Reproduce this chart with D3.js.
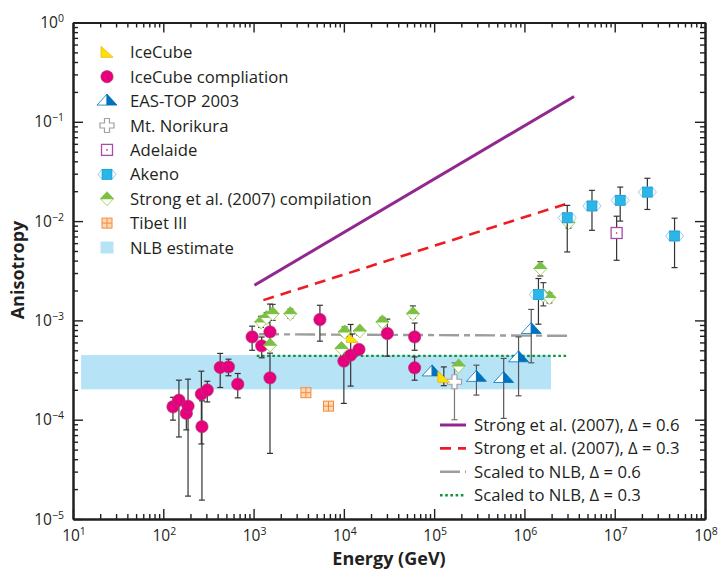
<!DOCTYPE html>
<html>
<head>
<meta charset="utf-8">
<script src="https://cdn.jsdelivr.net/npm/d3@7"></script>
<style>
body{margin:0;background:#fff;}
text{font-family:"Open Sans",sans-serif;fill:#231f20;}
</style>
</head>
<body>
<div id="chart"></div>
<script>
// [energy (GeV), anisotropy, err low, err high]
var iceCubeComp = [
	[128,1.35e-4,9.9e-5,1.68e-4],[149,1.57e-4,6.7e-5,2.5e-4],[180,1.16e-4,7.9e-5,1.40e-4],
	[188,1.37e-4,1.7e-5,2.56e-4],[264,1.81e-4,5.7e-5,3.08e-4],[268,8.5e-5,1.55e-5,1.55e-4],
	[307,1.99e-4,1.51e-4,2.44e-4],[427,3.36e-4,2.11e-4,4.65e-4],[527,3.4e-4,2.77e-4,4.07e-4],
	[668,2.28e-4,1.66e-4,2.92e-4],[964,6.82e-4,5.0e-4,8.75e-4],[1230,5.54e-4,4.2e-4,6.8e-4],
	[1520,7.66e-4,6.08e-4,1.46e-3],[1520,2.64e-4,4.58e-5,4.68e-4],[5430,1.02e-3,6.18e-4,1.42e-3],
	[1.0e4,3.89e-4,1.46e-4,4.8e-4],[1.19e4,4.47e-4,2.18e-4,9.1e-4],[1.47e4,5.1e-4,4.6e-4,5.6e-4],
	[3.03e4,7.38e-4,4.36e-4,1.03e-3],[6.08e4,6.82e-4,5.0e-4,9.4e-4],[6.08e4,3.33e-4,2.5e-4,4.29e-4]
];
var iceCube = [[1.24e4,6.73e-4,6.2e-4,7.3e-4],[1.28e5,2.67e-4,2.2e-4,3.4e-4]];
var easTop = [
	[9.5e4,3.03e-4,3.03e-4,3.03e-4],[2.94e5,2.67e-4,1.77e-4,3.54e-4],[5.89e5,2.6e-4,1.03e-4,4.14e-4],
	[8.61e5,4.2e-4,1.74e-4,6.82e-4],[1.19e6,8.1e-4,3.74e-4,1.29e-3]
];
var norikura = [[1.68e5,2.41e-4,1.0e-4,3.74e-4]];
var adelaide = [[1.05e7,7.59e-3,4.03e-3,1.12e-2]];
var akeno = [
	[1.43e6,1.82e-3,9.16e-4,2.64e-3],[2.98e6,1.08e-2,4.89e-3,1.44e-2],[5.6e6,1.42e-2,8.08e-3,2.04e-2],
	[1.15e7,1.62e-2,1.0e-2,2.20e-2],[2.3e7,1.96e-2,1.31e-2,2.70e-2],[4.6e7,7.08e-3,3.40e-3,1.07e-2]
];
var strong = [
	[1211,9.66e-4,8.5e-4,1.1e-3],[1397,1.07e-3,9.5e-4,1.2e-3],[1628,1.17e-3,1.0e-3,1.45e-3],
	[2553,1.17e-3,1.05e-3,1.3e-3],[1523,5.63e-4,5.63e-4,5.63e-4],[1.02e4,7.66e-4,6.9e-4,8.6e-4],
	[9.4e3,5.22e-4,5.22e-4,5.22e-4],[1.50e4,7.84e-4,7.84e-4,7.84e-4],[2.67e4,9.66e-4,8.8e-4,1.07e-3],
	[5.82e4,1.17e-3,1.05e-3,1.4e-3],[1.87e5,3.48e-4,3.48e-4,3.48e-4],[3.08e6,9.66e-3,8.5e-3,1.1e-2],
	[1.50e6,3.33e-3,2.8e-3,3.9e-3],[1.62e6,1.79e-3,1.4e-3,2.4e-3],[1.89e6,1.70e-3,1.5e-3,1.9e-3]
];
var tibet = [[3.8e3,1.87e-4],[6.76e3,1.37e-4]];

var strong06 = [[1023,2.26e-3],[3.55e6,0.18]];
var strong03 = [[1285,1.6e-3],[2.83e6,1.48e-2]];
var nlb06 = [[1150,7.26e-4],[2.98e6,7.0e-4]];
var nlb03 = [[1084,4.39e-4],[2.98e6,4.39e-4]];
var nlbBand = {e:[12.3,1.97e6], a:[2.02e-4,4.47e-4]};

var xMajors = [1,2,3,4,5,6,7,8];
var yMajors = [-5,-4,-3,-2,-1,0];

var legendTop = [
	["icecube","IceCube"],["icecomp","IceCube compliation"],["eastop","EAS-TOP 2003"],
	["norikura","Mt. Norikura"],["adelaide","Adelaide"],["akeno","Akeno"],
	["strong","Strong et al. (2007) compilation"],["tibet","Tibet III"],["nlb","NLB estimate"]
];
var legendLines = [
	["s06","Strong et al. (2007), \u0394 = 0.6"],["s03","Strong et al. (2007), \u0394 = 0.3"],
	["n06","Scaled to NLB, \u0394 = 0.6"],["n03","Scaled to NLB, \u0394 = 0.3"]
];

(function(){
	var width = 719, height = 570;
	var svg = d3.select("div#chart").append("svg")
		.attr("width",width).attr("height",height);

	var x = d3.scaleLog().domain([10,1e8]).range([73,705]);
	var y = d3.scaleLog().domain([1e-5,1]).range([519,22.5]);

	var lineStyles = {
		s06:{stroke:"#92278f",w:3,dash:null},
		s03:{stroke:"#ed1c24",w:2.6,dash:"11,7"},
		n06:{stroke:"#9d9d9d",w:2.4,dash:"20,5,6,5"},
		n03:{stroke:"#10923f",w:2.4,dash:"2.6,2.6"}
	};

	// NLB band
	svg.append("rect")
		.attr("x",x(nlbBand.e[0])).attr("width",x(nlbBand.e[1])-x(nlbBand.e[0]))
		.attr("y",y(nlbBand.a[1])).attr("height",y(nlbBand.a[0])-y(nlbBand.a[1]))
		.attr("fill","#b7e3f7");

	var line = d3.line().x(function(d){return x(d[0]);}).y(function(d){return y(d[1]);});
	[[strong06,"s06"],[strong03,"s03"],[nlb06,"n06"],[nlb03,"n03"]].forEach(function(l){
		var s = lineStyles[l[1]];
		svg.append("path").attr("d",line(l[0])).attr("fill","none")
			.attr("stroke",s.stroke).attr("stroke-width",s.w)
			.attr("stroke-dasharray",s.dash);
	});

	function marker(g,type){
		if(type=="icecube"){
			g.append("path").attr("d","M-6,-6L-6,5L6,5Z").attr("fill","#ffe100").attr("stroke","#f2b01e").attr("stroke-width",0.8);
		}else if(type=="icecomp"){
			g.append("circle").attr("r",6.2).attr("fill","#e6007e").attr("stroke","#a0466f").attr("stroke-width",0.6);
		}else if(type=="eastop"){
			g.append("path").attr("d","M-10,4L0,-7L0,4Z").attr("fill","#fff").attr("stroke","#0072bc").attr("stroke-width",0.8);
			g.append("path").attr("d","M0,-7L10,4L0,4Z").attr("fill","#0072bc").attr("stroke","#0072bc").attr("stroke-width",0.8);
		}else if(type=="norikura"){
			g.append("path").attr("d","M-2.5,-7h5v4.5h4.5v5h-4.5v4.5h-5v-4.5h-4.5v-5h4.5Z")
				.attr("fill","#fff").attr("stroke","#a0a0a0").attr("stroke-width",1.2);
		}else if(type=="adelaide"){
			g.append("rect").attr("x",-5.5).attr("y",-5.5).attr("width",11).attr("height",11)
				.attr("fill","#fff").attr("stroke","#a54ea5").attr("stroke-width",1.3);
			g.append("circle").attr("r",0.8).attr("fill","#e6007e");
		}else if(type=="akeno"){
			g.append("path").attr("d","M-9,0L-5,-5L5,-5L9,0L5,5L-5,5Z").attr("fill","#fff").attr("stroke","#8fd1f2").attr("stroke-width",1);
			g.append("rect").attr("x",-5).attr("y",-5).attr("width",10).attr("height",10)
				.attr("fill","#29b6e8").attr("stroke","#1a8fc4").attr("stroke-width",0.6);
		}else if(type=="strong"){
			g.append("path").attr("d","M-6.5,0L0,7L6.5,0Z").attr("fill","#fff").attr("stroke","#8dc63f").attr("stroke-width",0.8);
			g.append("path").attr("d","M-6.5,0L0,-7L6.5,0Z").attr("fill","#7ac143").attr("stroke","#7ac143").attr("stroke-width",0.8);
		}else if(type=="tibet"){
			g.append("rect").attr("x",-5).attr("y",-5).attr("width",10).attr("height",10)
				.attr("fill","#fdd9b5").attr("stroke","#f58a3c").attr("stroke-width",1);
			g.append("path").attr("d","M0,-5V5M-5,0H5").attr("stroke","#f58a3c").attr("stroke-width",1);
		}else if(type=="nlb"){
			g.append("rect").attr("x",-6.5).attr("y",-6).attr("width",13).attr("height",12).attr("fill","#b7e3f7");
		}
	}

	function series(data,type,barColor){
		var g = svg.append("g");
		var bars = g.selectAll(".eb").data(data.filter(function(d){return d.length>2 && d[2]!=d[3];}))
			.enter().append("g").attr("stroke",barColor||"#333").attr("stroke-width",1.2);
		bars.append("line")
			.attr("x1",function(d){return x(d[0]);}).attr("x2",function(d){return x(d[0]);})
			.attr("y1",function(d){return y(d[2]);}).attr("y2",function(d){return y(d[3]);});
		[2,3].forEach(function(i){
			bars.append("line")
				.attr("x1",function(d){return x(d[0])-3;}).attr("x2",function(d){return x(d[0])+3;})
				.attr("y1",function(d){return y(d[i]);}).attr("y2",function(d){return y(d[i]);});
		});
		g.selectAll(".pt").data(data).enter().append("g")
			.attr("transform",function(d){return "translate("+x(d[0])+","+y(d[1])+")";})
			.each(function(){ marker(d3.select(this),type); });
	}

	series(iceCubeComp,"icecomp","#333");
	series(easTop,"eastop","#555");
	series(norikura,"norikura","#777");
	series(iceCube,"icecube","#333");
	series(tibet,"tibet");
	series(adelaide,"adelaide","#333");
	series(strong,"strong","#444");
	series(akeno,"akeno","#333");

	// axes
	function minors(lo,hi){
		var out = [];
		for(var e=lo;e<hi;e++){ for(var k=2;k<10;k++){ out.push(k*Math.pow(10,e)); } }
		return out;
	}
	var xMaj = xMajors.map(function(p){return Math.pow(10,p);});
	var yMaj = yMajors.map(function(p){return Math.pow(10,p);});
	var xMin = minors(1,8), yMin = minors(-5,0);

	function addAxis(axis,tr){
		var g = svg.append("g").attr("transform",tr).call(axis);
		g.selectAll("text").remove();
		g.select(".domain").attr("stroke","#231f20").attr("stroke-width",2);
		g.selectAll(".tick line").attr("stroke","#231f20").attr("stroke-width",1.4);
		return g;
	}
	[[d3.axisBottom,"translate(0,519)",x,xMaj,xMin],[d3.axisTop,"translate(0,22.5)",x,xMaj,xMin],
	 [d3.axisLeft,"translate(73,0)",y,yMaj,yMin],[d3.axisRight,"translate(705,0)",y,yMaj,yMin]].forEach(function(a){
		addAxis(a[0](a[2]).tickValues(a[3]).tickSize(-10).tickSizeOuter(0).tickFormat(""),a[1]);
		addAxis(a[0](a[2]).tickValues(a[4]).tickSize(-5).tickSizeOuter(0).tickFormat(""),a[1]);
	});

	function powLabel(t,p){
		t.append("tspan").text("10");
		t.append("tspan").attr("dy",-6).attr("font-size",10.5).text(p<0?"\u2212"+(-p):p);
	}
	xMajors.forEach(function(p){
		var t = svg.append("text").attr("x",x(Math.pow(10,p))+1).attr("y",540.5)
			.attr("text-anchor","middle").attr("font-size",15.5);
		powLabel(t,p);
	});
	yMajors.forEach(function(p){
		var t = svg.append("text").attr("x",64).attr("y",y(Math.pow(10,p))+5.5)
			.attr("text-anchor","end").attr("font-size",15.5);
		powLabel(t,p);
	});

	svg.append("text").attr("x",389).attr("y",565).attr("text-anchor","middle")
		.attr("font-size",18).attr("font-weight","bold").text("Energy (GeV)");
	svg.append("text").attr("transform","translate(24,270) rotate(-90)").attr("text-anchor","middle")
		.attr("font-size",18).attr("font-weight","bold").text("Anisotropy");

	// legends
	legendTop.forEach(function(d,i){
		var yy = 52.3 + i*24.4;
		var g = svg.append("g").attr("transform","translate(107,"+yy+")");
		marker(g,d[0]);
		svg.append("text").attr("x",130).attr("y",yy+6).attr("font-size",16.7).text(d[1]);
	});
	legendLines.forEach(function(d,i){
		var yy = 425 + i*23.4;
		var s = lineStyles[d[0]];
		svg.append("line").attr("x1",440).attr("x2",466).attr("y1",yy).attr("y2",yy)
			.attr("stroke",s.stroke).attr("stroke-width",s.w).attr("stroke-dasharray",s.dash);
		svg.append("text").attr("x",474).attr("y",yy+6).attr("font-size",16.7).text(d[1]);
	});
})();
</script>
</body>
</html>
